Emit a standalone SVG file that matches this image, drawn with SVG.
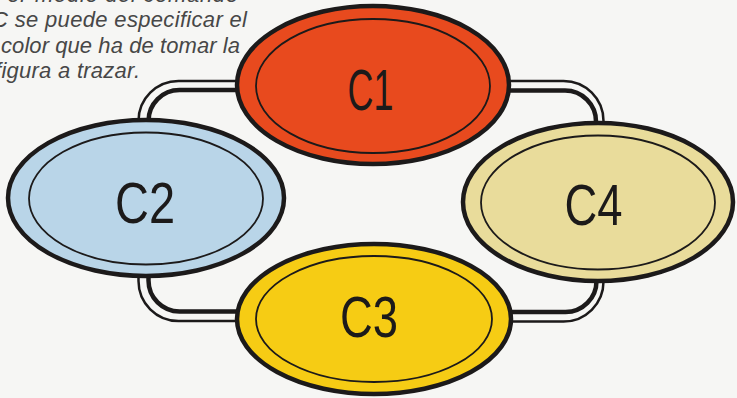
<svg xmlns="http://www.w3.org/2000/svg" width="737" height="398" viewBox="0 0 737 398">
<style>
.cap{font-family:"Liberation Sans",Arial,sans-serif;font-style:italic;font-size:22px;fill:#474747}
.lbl{font-family:"Liberation Sans",Arial,sans-serif;font-size:58px;fill:#1c1a1a;text-anchor:middle}
.outer{stroke:#1c1a1a;stroke-width:4.5}
.inner{fill:none;stroke:#1c1a1a;stroke-width:1.8}
.pthin{fill:none;stroke:#1c1a1a;stroke-width:2.5}
.pthick{fill:none;stroke:#1c1a1a;stroke-width:4.5}
</style>
<rect width="737" height="398" fill="#f6f6f4"/>
<g id="caption">
<text class="cap" x="-8" y="2" textLength="246">Por medio del comando</text>
<text class="cap" x="-8" y="27" textLength="255">C se puede especificar el</text>
<text class="cap" x="1" y="53" textLength="239">color que ha de tomar la</text>
<text class="cap" x="-5" y="78" textLength="145">figura a trazar.</text>
</g>
<g id="connectors">
<path class="pthin" d="M260 81 H178.5 A40 40 0 0 0 138.5 121 V200"/>
<path class="pthick" d="M260 90 H179.5 A31 31 0 0 0 148.5 121 V200"/>
<path class="pthin" d="M480 81 H563.5 A40 40 0 0 1 603.5 121 V200"/>
<path class="pthick" d="M480 90.5 H565 A31 31 0 0 1 596 121.5 V200"/>
<path class="pthin" d="M138.5 200 V281 A40 40 0 0 0 178.5 321 H260"/>
<path class="pthick" d="M148.5 200 V280.5 A31 31 0 0 0 179.5 311.5 H260"/>
<path class="pthin" d="M603.5 200 V281.5 A40 40 0 0 1 563.5 321.5 H480"/>
<path class="pthick" d="M596.5 200 V281 A31 31 0 0 1 565.5 312 H480"/>
</g>
<g id="C1">
<ellipse class="outer" cx="373" cy="85" rx="136" ry="79" fill="#e84a1e"/>
<ellipse class="inner" cx="373" cy="86" rx="117" ry="67"/>
<text class="lbl" x="370.5" y="110" textLength="46" lengthAdjust="spacingAndGlyphs">C1</text>
</g>
<g id="C2">
<ellipse class="outer" cx="146" cy="198" rx="138" ry="78" fill="#b9d5e8"/>
<ellipse class="inner" cx="146" cy="198.5" rx="117" ry="66"/>
<text class="lbl" x="145" y="223" textLength="60" lengthAdjust="spacingAndGlyphs">C2</text>
</g>
<g id="C4">
<ellipse class="outer" cx="598" cy="202" rx="135" ry="79" fill="#e9dc9b"/>
<ellipse class="inner" cx="598" cy="202.5" rx="117" ry="67"/>
<text class="lbl" x="593.5" y="225" textLength="58" lengthAdjust="spacingAndGlyphs">C4</text>
</g>
<g id="C3">
<ellipse class="outer" cx="374" cy="319" rx="137" ry="75" fill="#f6cc14"/>
<ellipse class="inner" cx="374" cy="319" rx="118" ry="63"/>
<text class="lbl" x="369" y="337" textLength="58" lengthAdjust="spacingAndGlyphs">C3</text>
</g>
</svg>
